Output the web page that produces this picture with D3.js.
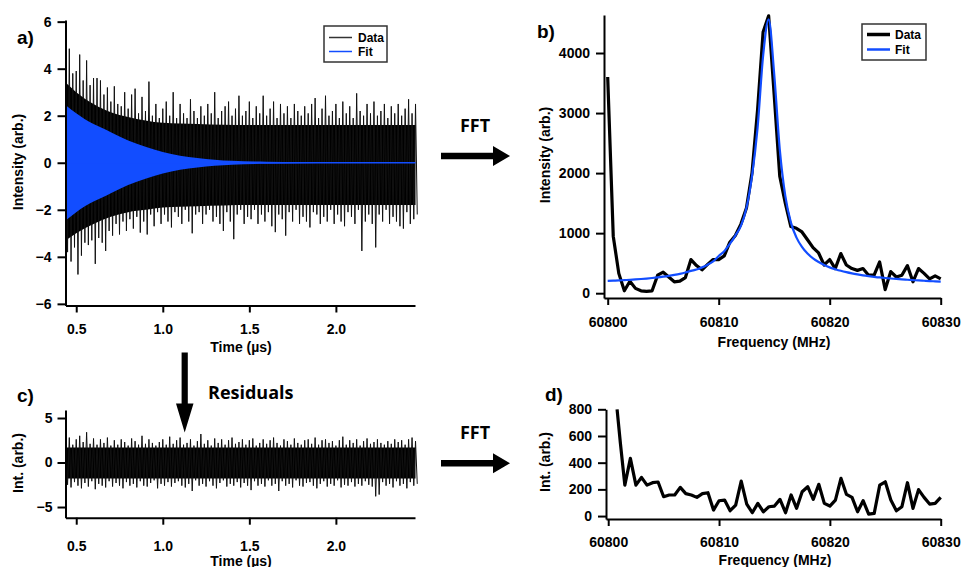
<!DOCTYPE html>
<html><head><meta charset="utf-8">
<script src="https://cdn.jsdelivr.net/npm/d3@7"></script>
<style>
body{margin:0;background:#fff;}
svg{display:block;font-family:"Liberation Sans",Arial,sans-serif;}
</style></head><body>
<svg id="chart" width="962" height="567"></svg>
<script>
// ---------------- DATA ----------------
// Panel a: time-domain signal, sampled every 0.02 µs from 0.44 µs (upper / lower extremes of the trace)
const timeStart = 0.44, timeStep = 0.02;
const dataUpper = [
 4.0,4.85,3.8,3.9,4.6,3.5,4.35,3.3,3.6,3.6,
 3.5,2.9,3.2,2.6,3.25,2.5,2.4,3.0,2.3,2.9,
 3.15,2.1,2.8,2.2,3.45,2.0,2.5,1.9,2.3,2.6,
 2.0,3.0,1.9,2.5,2.1,1.9,2.7,2.2,1.9,2.4,
 2.0,2.5,2.1,3.0,1.9,2.2,2.4,2.6,2.0,2.3,
 2.85,2.0,2.2,2.6,1.9,2.4,2.1,2.85,2.0,2.3,
 2.6,1.9,2.5,2.1,2.4,1.9,2.5,2.2,2.0,2.4,
 2.1,2.5,2.75,1.9,2.3,2.85,2.0,2.2,2.5,1.9,
 2.6,2.1,2.4,1.9,2.95,2.2,2.0,2.5,2.1,2.6,
 2.0,2.2,2.5,1.9,2.4,2.1,2.5,2.0,2.3,2.7,
 2.1,2.5];
const dataLower = [
 -3.8,-4.2,-3.6,-4.75,-3.95,-3.4,-3.5,-3.3,-4.3,-3.2,
 -3.4,-3.75,-2.9,-3.1,-2.6,-3.05,-2.5,-2.9,-2.4,-2.8,
 -2.3,-2.97,-2.5,-3.05,-2.2,-2.7,-2.1,-2.6,-2.2,-2.5,
 -2.75,-2.1,-2.3,-2.6,-2.0,-2.5,-3.0,-2.2,-2.1,-2.6,
 -2.2,-2.0,-2.5,-2.3,-2.6,-2.9,-2.1,-2.5,-3.25,-2.2,
 -2.0,-2.6,-2.3,-2.4,-2.0,-2.6,-2.2,-2.5,-2.1,-2.7,
 -2.95,-2.2,-2.4,-3.1,-2.1,-2.5,-2.0,-2.6,-2.3,-2.5,
 -2.75,-2.1,-2.2,-2.6,-2.3,-2.5,-2.0,-2.6,-2.2,-2.5,
 -2.7,-2.1,-2.3,-2.6,-2.0,-3.75,-2.5,-2.2,-2.6,-3.6,
 -2.2,-2.5,-2.0,-2.6,-2.3,-2.5,-2.7,-2.8,-2.1,-2.6,
 -2.4,-2.2];
// dense core of the trace
const coreTime  = [0.44, 0.5, 0.6, 0.7, 0.8, 0.9, 1.0, 1.2, 1.5, 2.0, 2.46];
const coreUpper = [3.4, 3.0, 2.5, 2.15, 1.95, 1.8, 1.7, 1.65, 1.6, 1.6, 1.6];
const coreLower = [-3.3, -3.0, -2.6, -2.3, -2.1, -2.0, -1.9, -1.85, -1.8, -1.8, -1.8];
// fit envelope
const fitTime     = [0.44, 0.5, 0.55, 0.6, 0.65, 0.7, 0.8, 0.9, 1.0, 1.1, 1.2, 1.3, 1.4, 1.6, 1.8, 2.0, 2.46];
const fitEnvelope = [2.45, 2.1, 1.85, 1.65, 1.48, 1.3, 0.95, 0.68, 0.46, 0.3, 0.2, 0.13, 0.08, 0.04, 0.02, 0.01, 0.0];

// Panel c: residuals (upper / lower extremes), same sampling
const residUpper = [
 2.2,2.8,2.0,2.6,3.0,2.3,3.4,2.1,2.7,2.0,
 2.6,2.2,2.8,1.9,2.5,2.0,2.6,2.3,1.9,2.7,
 2.4,2.0,3.0,2.1,2.6,2.2,1.9,2.3,2.6,2.0,
 2.9,2.1,2.5,2.8,2.0,2.2,2.6,1.9,2.4,3.2,
 2.1,2.5,1.9,2.7,2.2,2.6,2.0,2.5,2.8,2.1,
 2.3,2.6,2.0,2.5,2.7,1.9,2.2,2.6,2.1,2.5,
 2.8,2.2,1.9,2.6,2.4,2.0,2.7,2.2,2.0,2.5,
 2.6,2.1,2.8,2.0,2.5,2.6,2.2,2.4,1.9,2.5,
 2.9,2.0,2.5,2.2,2.6,1.9,2.4,2.7,2.1,2.3,
 2.6,2.2,2.0,2.4,2.1,2.6,2.3,2.5,2.0,2.6,
 2.8,2.4];
const residLower = [
 -2.5,-2.8,-2.2,-2.6,-2.9,-2.3,-2.7,-2.1,-3.0,-2.4,
 -2.6,-2.8,-2.1,-2.7,-2.3,-2.6,-2.9,-2.2,-2.6,-2.4,
 -2.8,-2.1,-2.6,-2.7,-2.3,-2.0,-2.9,-2.4,-2.6,-2.2,
 -2.7,-2.3,-2.1,-2.6,-2.8,-2.4,-3.2,-2.0,-2.6,-2.4,
 -2.7,-2.1,-2.6,-2.9,-2.3,-2.0,-2.7,-2.4,-2.6,-2.2,
 -2.8,-2.3,-2.6,-3.1,-2.1,-2.6,-2.4,-2.7,-2.0,-2.6,
 -2.4,-3.2,-2.1,-2.6,-2.4,-2.8,-2.0,-2.6,-2.7,-2.3,
 -2.2,-2.6,-2.9,-2.4,-2.1,-2.7,-2.4,-2.6,-2.0,-2.8,
 -2.5,-2.6,-2.2,-2.7,-2.4,-2.6,-2.1,-2.5,-2.7,-3.8,
 -3.6,-2.2,-2.6,-2.4,-2.8,-2.1,-2.6,-2.4,-2.9,-2.2,
 -2.6,-2.4];
const residCoreTime  = [0.44, 2.46];
const residCoreUpper = [1.7, 1.7];
const residCoreLower = [-1.8, -1.8];

// Panel b: FFT of data, every 0.5 MHz from 60800 MHz
const freqStart = 60800, freqStep = 0.5;
const fftData = [
 3600,950,330,40,200,80,40,30,40,300,
 350,270,190,200,260,560,460,390,480,560,
 560,620,850,960,1150,1420,2000,3050,4350,4620,
 3300,1950,1500,1110,1080,1020,890,760,670,470,
 560,410,660,470,410,380,410,300,300,520,
 60,360,270,300,460,190,410,330,240,290,
 240];
const fftFit = [
 205,209,213,218,223,229,236,244,253,263,
 275,289,305,323,345,372,395,430,475,530,
 620,700,820,960,1120,1420,1950,2750,3950,4560,
 3650,2400,1620,1180,930,770,660,580,520,470,
 430,400,373,350,330,313,298,285,273,262,
 253,245,237,230,224,218,212,207,202,198,
 194];

// Panel d: FFT of residuals
const freqResid = [60800.8, 60801.1].concat(d3.range(0, 58).map(i => 60801.5 + i * 0.5));
const fftResid = [
 800,545,
 232,432,232,290,232,250,255,145,158,158,
 215,168,158,140,168,175,45,115,120,40,
 82,262,90,25,95,32,70,75,125,25,
 158,58,182,220,125,238,95,75,120,283,
 162,140,32,115,15,20,232,257,120,40,
 70,250,58,198,140,90,95,140];

// ticks
const timeTicks = [0.5, 1.0, 1.5, 2.0];
const ticksA = [-6, -4, -2, 0, 2, 4, 6];
const ticksB = [0, 1000, 2000, 3000, 4000];
const ticksC = [-5, 0, 5];
const ticksD = [0, 200, 400, 600, 800];
const freqTicks = [60800, 60810, 60820, 60830];

// ---------------- DRAW ----------------
const svg = d3.select('#chart');
const BLUE = '#124dff';
const FONT = '"Liberation Sans", Arial, sans-serif';
const OPEN = '"Open Sans", "Liberation Sans", Arial, sans-serif';

function styleAxis(g) {
  g.attr('font-family', FONT).attr('font-size', 14).attr('font-weight', 'bold');
  g.selectAll('path.domain').attr('stroke', '#000').attr('stroke-width', 2);
  g.selectAll('.tick line').attr('stroke', '#000').attr('stroke-width', 2);
  g.selectAll('.tick text').attr('fill', '#000');
}
function axes(x, y, xTicks, yTicks, xFmt, yFmt, xPad, yPad) {
  const gx = svg.append('g').attr('transform', `translate(0,${y.range()[0]})`)
    .call(d3.axisBottom(x).tickValues(xTicks).tickFormat(xFmt).tickSize(7).tickSizeOuter(0).tickPadding(xPad));
  styleAxis(gx);
  const gy = svg.append('g').attr('transform', `translate(${x.range()[0]},0)`)
    .call(d3.axisLeft(y).tickValues(yTicks).tickFormat(yFmt).tickSize(8).tickSizeOuter(0).tickPadding(yPad));
  styleAxis(gy);
}
function label(txt, x, y, opts = {}) {
  const t = svg.append('text').attr('x', x).attr('y', y).text(txt)
    .attr('font-family', opts.family || FONT).attr('font-weight', 'bold')
    .attr('font-size', opts.size || 14).attr('fill', '#000')
    .attr('text-anchor', opts.anchor || 'middle');
  if (opts.rotate) t.attr('transform', `rotate(-90,${x},${y})`);
  return t;
}
function zigzag(upper, lower) {
  const pts = [];
  upper.forEach((u, i) => {
    const t = timeStart + i * timeStep;
    pts.push([t, u]);
    if (i < lower.length) pts.push([t + timeStep / 2, lower[i]]);
  });
  return pts;
}

// ----- panel a -----
const xA = d3.scaleLinear().domain([0.438, 2.457]).range([65.5, 415]);
const yA = d3.scaleLinear().domain([-6.07, 6.07]).range([305.5, 20]);
svg.append('path').datum(coreTime.map((t, i) => [t, coreUpper[i], coreLower[i]]))
  .attr('fill', '#000')
  .attr('d', d3.area().x(d => xA(d[0])).y0(d => yA(d[2])).y1(d => yA(d[1])).curve(d3.curveMonotoneX));
svg.append('path').datum(zigzag(dataUpper, dataLower))
  .attr('fill', 'none').attr('stroke', '#111').attr('stroke-width', 1)
  .attr('d', d3.line().x(d => xA(d[0])).y(d => yA(d[1])));
svg.append('path').datum(fitTime.map((t, i) => [t, fitEnvelope[i]]))
  .attr('fill', BLUE)
  .attr('d', d3.area().x(d => xA(d[0])).y0(d => yA(-d[1])).y1(d => yA(d[1])).curve(d3.curveMonotoneX));
svg.append('path').datum(fitTime.map(t => [t, 0]))
  .attr('fill', 'none').attr('stroke', BLUE).attr('stroke-width', 1.5)
  .attr('d', d3.line().x(d => xA(d[0])).y(d => yA(d[1])));
axes(xA, yA, timeTicks, ticksA, d3.format('.1f'), d3.format('d'), 12, 6);
label('Time (µs)', 241, 352);
label('Intensity (arb.)', 23, 162, {rotate: true});
label('a)', 17, 44, {size: 19, anchor: 'start'});

// legend a
svg.append('rect').attr('x', 324).attr('y', 26).attr('width', 63).attr('height', 36)
  .attr('fill', '#fff').attr('stroke', '#333').attr('stroke-width', 1.5);
svg.append('line').attr('x1', 329).attr('x2', 352).attr('y1', 37.5).attr('y2', 37.5).attr('stroke', '#333').attr('stroke-width', 1.5);
svg.append('line').attr('x1', 329).attr('x2', 352).attr('y1', 51.5).attr('y2', 51.5).attr('stroke', BLUE).attr('stroke-width', 1.5);
label('Data', 358, 41.5, {size: 12, anchor: 'start'});
label('Fit', 358, 56, {size: 12, anchor: 'start'});

// ----- panel b -----
const xB = d3.scaleLinear().domain([60799.667, 60830]).range([604, 940.7]);
const yB = d3.scaleLinear().domain([-80, 4633]).range([298, 15]);
svg.append('path').datum(fftData.map((v, i) => [freqStart + i * freqStep, v]))
  .attr('fill', 'none').attr('stroke', '#000').attr('stroke-width', 3.2).attr('stroke-linejoin', 'round')
  .attr('d', d3.line().x(d => xB(d[0])).y(d => yB(d[1])));
svg.append('path').datum(fftFit.map((v, i) => [freqStart + i * freqStep, v]))
  .attr('fill', 'none').attr('stroke', BLUE).attr('stroke-width', 2.2)
  .attr('d', d3.line().x(d => xB(d[0])).y(d => yB(d[1])).curve(d3.curveMonotoneX));
axes(xB, yB, freqTicks, ticksB, d3.format('d'), d3.format('d'), 12, 6);
label('Frequency (MHz)', 774, 347);
label('Intensity (arb.)', 550, 155, {rotate: true});
label('b)', 537, 38, {size: 19, anchor: 'start'});

// legend b
svg.append('rect').attr('x', 862).attr('y', 24).attr('width', 64).attr('height', 36)
  .attr('fill', '#fff').attr('stroke', '#333').attr('stroke-width', 1.5);
svg.append('line').attr('x1', 867).attr('x2', 890).attr('y1', 34.5).attr('y2', 34.5).attr('stroke', '#000').attr('stroke-width', 3.5);
svg.append('line').attr('x1', 867).attr('x2', 890).attr('y1', 49.5).attr('y2', 49.5).attr('stroke', BLUE).attr('stroke-width', 2.5);
label('Data', 895, 39, {size: 12, anchor: 'start'});
label('Fit', 895, 54, {size: 12, anchor: 'start'});

// ----- panel c -----
const xC = d3.scaleLinear().domain([0.438, 2.457]).range([65.5, 415]);
const yC = d3.scaleLinear().domain([-6.2, 5.9]).range([517.7, 410]);
svg.append('path').datum(residCoreTime.map((t, i) => [t, residCoreUpper[i], residCoreLower[i]]))
  .attr('fill', '#000')
  .attr('d', d3.area().x(d => xC(d[0])).y0(d => yC(d[2])).y1(d => yC(d[1])));
svg.append('path').datum(zigzag(residUpper, residLower))
  .attr('fill', 'none').attr('stroke', '#111').attr('stroke-width', 1)
  .attr('d', d3.line().x(d => xC(d[0])).y(d => yC(d[1])));
axes(xC, yC, timeTicks, ticksC, d3.format('.1f'), d3.format('d'), 16, 5);
label('Time (µs)', 241, 565.5);
label('Int. (arb.)', 23, 463, {rotate: true});
label('c)', 17, 402, {size: 19, anchor: 'start'});

// ----- panel d -----
const xD = d3.scaleLinear().domain([60799.8, 60830]).range([606, 940.7]);
const yD = d3.scaleLinear().domain([-22, 800]).range([519, 409.3]);
svg.append('path').datum(fftResid.map((v, i) => [freqResid[i], v]))
  .attr('fill', 'none').attr('stroke', '#000').attr('stroke-width', 3.2).attr('stroke-linejoin', 'round')
  .attr('d', d3.line().x(d => xD(d[0])).y(d => yD(d[1])));
axes(xD, yD, freqTicks, ticksD, d3.format('d'), d3.format('d'), 11, 6);
label('Frequency (MHz)', 775, 565);
label('Int. (arb.)', 550, 462, {rotate: true});
label('d)', 545, 401, {size: 19, anchor: 'start'});

// ----- annotations -----
function rightArrow(yc) {
  svg.append('path').attr('fill', '#000')
    .attr('d', `M441,${yc - 3.3}H493V${yc - 10}L510,${yc}L493,${yc + 10}V${yc + 3.3}H441Z`);
}
rightArrow(156);
rightArrow(463.3);
label('FFT', 475, 131.5, {size: 18, family: OPEN});
label('FFT', 475, 438.5, {size: 18, family: OPEN});
svg.append('path').attr('fill', '#000')
  .attr('d', 'M181.6,352.5H187.8V403.5H193.5L184.7,432.5L176,403.5H181.6Z');
label('Residuals', 208, 399, {size: 18, family: OPEN, anchor: 'start'});
</script>
</body></html>
